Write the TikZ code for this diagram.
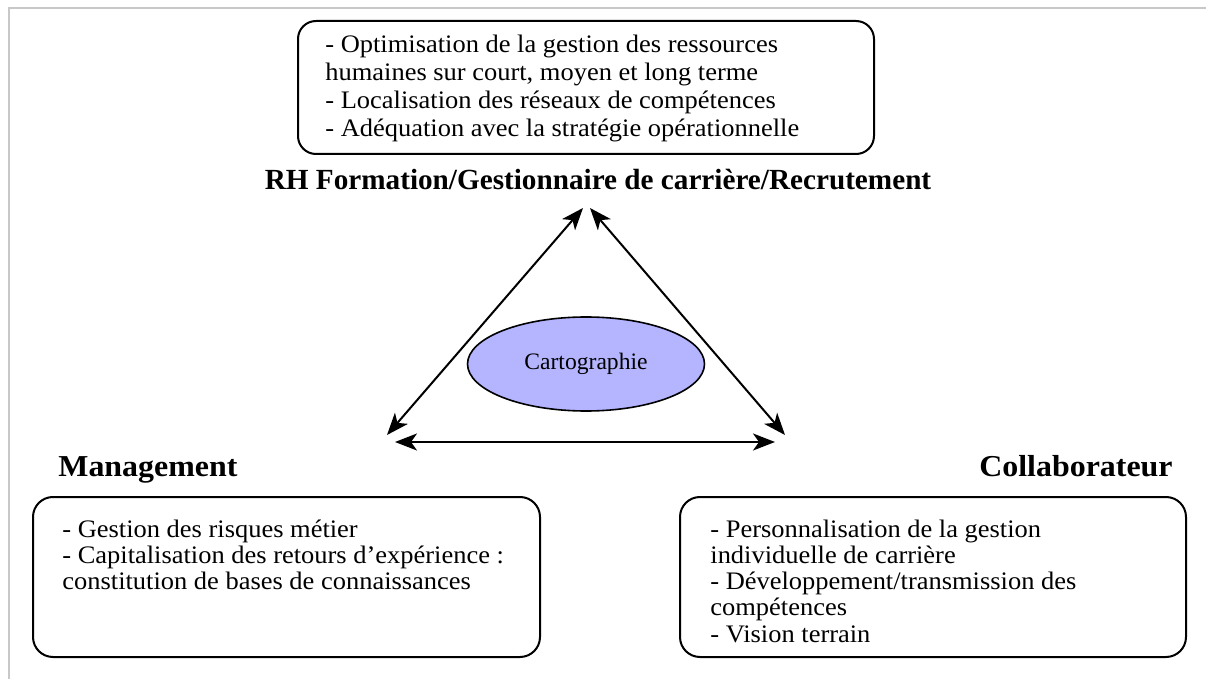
\documentclass[tikz,border=0pt]{standalone}
\usepackage{fontspec}
\setmainfont{Liberation Serif}
\newfontfamily\wideserif{Liberation Serif}[FakeStretch=1.05]
\usepackage{tikz}
\usetikzlibrary{arrows.meta}
\usetikzlibrary{shapes.geometric}
\definecolor{cartofill}{RGB}{180,180,255}
\definecolor{framegray}{RGB}{200,200,200}

\begin{document}
\begin{tikzpicture}[x=0.5pt,y=-0.5pt]
  %--------------------------------------------
  % Styles
  %--------------------------------------------
  \tikzset{
    rbox/.style={draw, line width=1pt, rounded corners=10pt, inner sep=0pt},
    bodytext/.style={align=left, inner sep=0pt, font=\wideserif\fontsize{12.6}{13.1}\selectfont},
    actor/.style={inner sep=0pt, font=\wideserif\bfseries\fontsize{15.2}{17}\selectfont},
    link/.style={line width=1pt,
      {Stealth[length=11pt,width=8.5pt,inset=3pt]}-{Stealth[length=11pt,width=8.5pt,inset=3pt]}},
    carto/.style={ellipse, draw, line width=0.8pt, fill=cartofill, inner sep=0pt,
      minimum width=118.5pt, minimum height=47pt, font=\fontsize{11.8}{14}\selectfont}
  }

  \useasboundingbox (0,0) rectangle (1206,679);
  \draw[framegray, line width=1pt] (9,679) -- (9,8) -- (1206,8);

  %--------------------------------------------
  % RH (top), base anchor = last line
  %--------------------------------------------
  \node[rbox, rounded corners=9pt, minimum width=288pt, minimum height=66.5pt] (rhbox) at (586,87.5) {};
  \node[bodytext, anchor=base west, font=\wideserif\fontsize{12.6}{14}\selectfont] (rhtext) at (325,137)
    {- Optimisation de la gestion des ressources\\
     humaines sur court, moyen et long terme\\
     - Localisation des réseaux de compétences\\
     - Adéquation avec la stratégie opérationnelle};
  \node[anchor=base, inner sep=0pt, font=\bfseries\fontsize{14.6}{17}\selectfont] (rh) at (598,190)
    {RH Formation/Gestionnaire de carrière/Recrutement};

  %--------------------------------------------
  % Management (bottom left)
  %--------------------------------------------
  \node[actor, anchor=base west] (mgmt) at (58,477) {Management};
  \node[rbox, minimum width=253.5pt, minimum height=80pt] (mgmtbox) at (286.5,577) {};
  \node[bodytext, anchor=base west] (mgmttext) at (62,589.5)
    {- Gestion des risques métier\\
     - Capitalisation des retours d’expérience :\\
     constitution de bases de connaissances};

  %--------------------------------------------
  % Collaborateur (bottom right)
  %--------------------------------------------
  \node[actor, anchor=base east] (collab) at (1173,477) {Collaborateur};
  \node[rbox, minimum width=253pt, minimum height=80pt] (collabbox) at (933,577) {};
  \node[bodytext, anchor=base west] (collabtext) at (710,642)
    {- Personnalisation de la gestion\\
     individuelle de carrière\\
     - Développement/transmission des\\
     compétences\\
     - Vision terrain};

  %--------------------------------------------
  % Triangle of exchanges
  %--------------------------------------------
  \coordinate (rhL) at (583,208);
  \coordinate (rhR) at (590,208);
  \coordinate (mgT) at (387,435);
  \coordinate (mgB) at (395,442);
  \coordinate (coT) at (785,435);
  \coordinate (coB) at (775,442);
  \draw[link] (mgT) -- (rhL);
  \draw[link] (rhR) -- (coT);
  \draw[link] (mgB) -- (coB);

  \node[carto] (carto) at (586,364) {Cartographie};
\end{tikzpicture}
\end{document}
